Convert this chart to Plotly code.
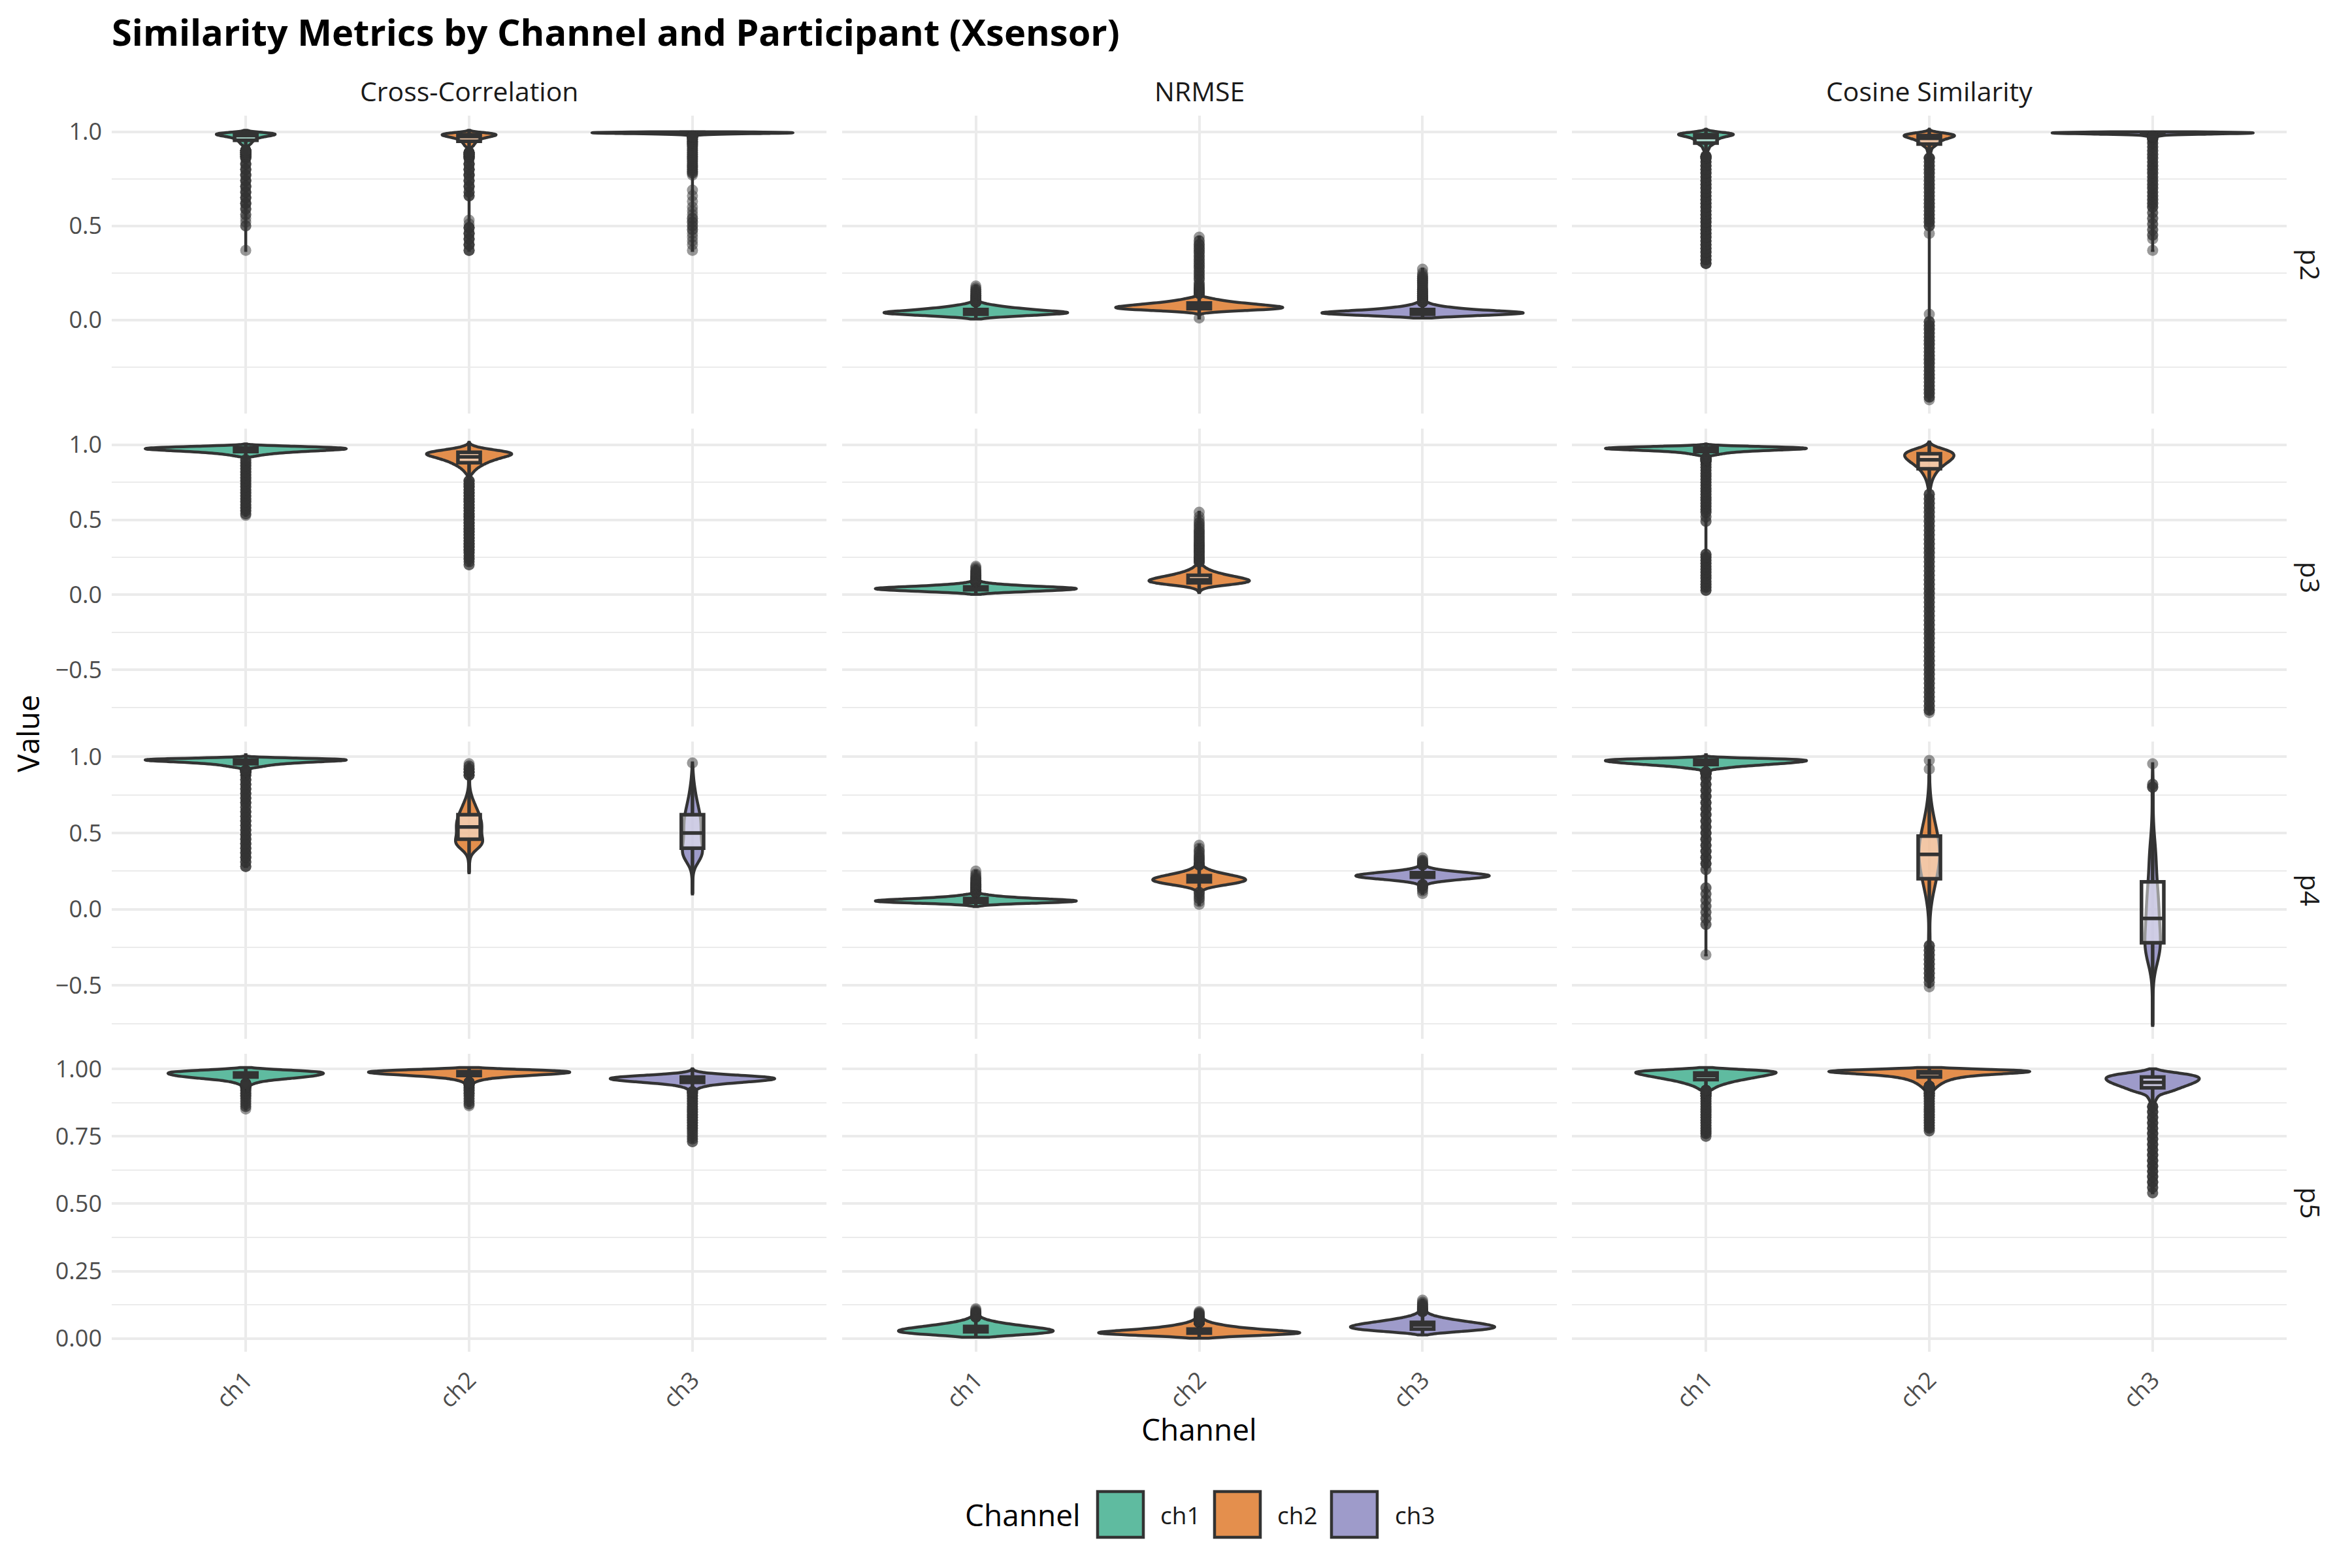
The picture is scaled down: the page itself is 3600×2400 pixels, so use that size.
"""
Similarity metrics by channel and participant (Xsensor)
Violin + box plots per participant (rows) and metric (columns)
"""

import numpy as np
import plotly.graph_objects as go
from plotly.subplots import make_subplots

PARTICIPANTS = ["p2", "p3", "p4", "p5"]
METRICS = ["Cross-Correlation", "NRMSE", "Cosine Similarity"]
CHANNELS = ["ch1", "ch2", "ch3"]
CHANNEL_RGB = [(27, 158, 119), (217, 95, 2), (117, 112, 179)]
ROW_TICK_STEP = [0.5, 0.5, 0.5, 0.25]
ROW_TICK_FORMAT = [".1f", ".1f", ".1f", ".2f"]

P2_CC_CH1 = [(1.008, 1), (1.0, 15), (0.995, 90), (0.99, 145), (0.985, 120), (0.98, 105), (0.975, 75),
             (0.97, 55), (0.965, 45), (0.96, 38), (0.955, 32), (0.95, 28), (0.945, 25), (0.94, 22),
             (0.935, 20), (0.93, 18), (0.92, 16), (0.91, 14), (0.90, 12), (0.89, 10), (0.88, 8),
             (0.87, 7), (0.86, 4), (0.83, 4), (0.80, 4), (0.77, 4), (0.74, 4), (0.71, 4), (0.68, 4),
             (0.65, 4), (0.62, 4), (0.59, 3), (0.56, 2), (0.54, 1), (0.52, 1), (0.50, 2), (0.37, 1)]
P2_CC_CH2 = [(1.008, 1), (1.0, 10), (0.995, 70), (0.99, 120), (0.985, 120), (0.98, 115), (0.975, 90),
             (0.97, 70), (0.965, 55), (0.96, 45), (0.955, 38), (0.95, 32), (0.945, 28), (0.94, 25),
             (0.935, 22), (0.93, 20), (0.925, 18), (0.92, 15), (0.91, 12), (0.90, 10), (0.89, 8),
             (0.88, 7), (0.87, 6), (0.86, 5), (0.83, 5), (0.80, 5), (0.77, 5), (0.74, 4), (0.71, 4),
             (0.68, 3), (0.66, 3), (0.53, 1), (0.51, 1), (0.49, 4), (0.46, 4), (0.43, 4), (0.40, 4),
             (0.37, 3)]
P2_CC_CH3 = [(1.0, 45), (0.9975, 220), (0.995, 240), (0.9925, 180), (0.99, 110), (0.9875, 55),
             (0.985, 30), (0.98, 14), (0.975, 8), (0.97, 5), (0.96, 3), (0.95, 3), (0.94, 3), (0.93, 3),
             (0.92, 2), (0.91, 2), (0.90, 2), (0.89, 2), (0.88, 2), (0.87, 2), (0.86, 2), (0.85, 2),
             (0.84, 2), (0.83, 2), (0.82, 2), (0.81, 2), (0.80, 2), (0.79, 2), (0.78, 2), (0.77, 1),
             (0.69, 1), (0.66, 1), (0.63, 1), (0.60, 1), (0.58, 1), (0.56, 1), (0.54, 2), (0.52, 2),
             (0.50, 2), (0.48, 2), (0.46, 1), (0.44, 1), (0.42, 1), (0.40, 1), (0.37, 1)]
P2_NRMSE_CH1 = [(0.005, 5), (0.01, 15), (0.015, 35), (0.02, 60), (0.025, 90), (0.03, 120), (0.035, 140),
                (0.04, 150), (0.045, 128), (0.05, 105), (0.055, 88), (0.06, 72), (0.065, 58), (0.07, 45),
                (0.075, 34), (0.08, 25), (0.085, 17), (0.09, 11), (0.095, 7), (0.10, 5), (0.11, 4),
                (0.12, 3), (0.13, 3), (0.14, 2), (0.15, 2), (0.16, 2), (0.17, 1), (0.18, 1)]
P2_NRMSE_CH2 = [(0.01, 1), (0.02, 1), (0.035, 4), (0.04, 14), (0.045, 35), (0.05, 65), (0.055, 95),
                (0.06, 115), (0.065, 122), (0.07, 118), (0.075, 105), (0.08, 90), (0.085, 76), (0.09, 62),
                (0.095, 50), (0.10, 39), (0.105, 30), (0.11, 23), (0.115, 17), (0.12, 12), (0.13, 9),
                (0.14, 7), (0.15, 5), (0.16, 4), (0.17, 3), (0.18, 2), (0.19, 2), (0.20, 1), (0.22, 3),
                (0.24, 3), (0.26, 3), (0.28, 3), (0.30, 3), (0.32, 3), (0.34, 3), (0.36, 3), (0.38, 3),
                (0.40, 3), (0.42, 2), (0.44, 1)]
P2_NRMSE_CH3 = [(0.01, 8), (0.015, 30), (0.02, 65), (0.025, 105), (0.03, 145), (0.035, 170), (0.04, 170),
                (0.045, 140), (0.05, 110), (0.055, 85), (0.06, 65), (0.065, 50), (0.07, 38), (0.075, 28),
                (0.08, 20), (0.085, 14), (0.09, 10), (0.095, 7), (0.10, 5), (0.11, 4), (0.12, 4),
                (0.13, 3), (0.14, 3), (0.15, 3), (0.16, 3), (0.17, 2), (0.18, 2), (0.19, 2), (0.20, 2),
                (0.21, 2), (0.22, 2), (0.23, 2), (0.24, 1), (0.25, 1), (0.27, 1)]
P2_COS_CH1 = [(1.014, 1), (1.0, 20), (0.995, 95), (0.99, 135), (0.985, 125), (0.98, 100), (0.975, 75),
              (0.97, 60), (0.965, 50), (0.96, 44), (0.955, 42), (0.95, 40), (0.945, 38), (0.94, 35),
              (0.935, 32), (0.93, 30), (0.92, 28), (0.91, 24), (0.90, 14), (0.89, 11), (0.88, 9),
              (0.87, 7), (0.86, 6), (0.84, 4), (0.82, 4), (0.80, 4), (0.78, 4), (0.76, 4), (0.74, 4),
              (0.72, 4), (0.70, 4), (0.68, 4), (0.66, 4), (0.64, 4), (0.62, 4), (0.60, 4), (0.58, 4),
              (0.56, 4), (0.54, 4), (0.52, 4), (0.50, 4), (0.48, 4), (0.46, 4), (0.44, 4), (0.42, 4),
              (0.40, 4), (0.38, 4), (0.36, 4), (0.34, 4), (0.32, 4), (0.30, 4)]
P2_COS_CH2 = [(1.014, 1), (1.0, 8), (0.995, 50), (0.99, 90), (0.985, 110), (0.98, 115), (0.975, 105),
              (0.97, 90), (0.965, 75), (0.96, 62), (0.955, 52), (0.95, 45), (0.945, 40), (0.94, 36),
              (0.935, 32), (0.93, 29), (0.925, 26), (0.92, 23), (0.91, 20), (0.90, 16), (0.89, 12),
              (0.88, 9), (0.87, 7), (0.86, 5), (0.84, 3), (0.82, 3), (0.80, 3), (0.78, 3), (0.76, 3),
              (0.74, 3), (0.72, 3), (0.70, 3), (0.68, 3), (0.66, 3), (0.64, 3), (0.62, 3), (0.60, 3),
              (0.58, 3), (0.56, 3), (0.54, 3), (0.52, 3), (0.50, 3), (0.46, 1), (0.03, 1), (-0.01, 3),
              (-0.03, 3), (-0.05, 3), (-0.07, 3), (-0.09, 3), (-0.11, 3), (-0.13, 3), (-0.15, 3),
              (-0.17, 3), (-0.19, 3), (-0.21, 3), (-0.23, 3), (-0.25, 3), (-0.27, 3), (-0.29, 3),
              (-0.31, 3), (-0.33, 3), (-0.35, 3), (-0.37, 3), (-0.39, 3), (-0.41, 3), (-0.425, 1)]
P2_COS_CH3 = [(1.0, 50), (0.9975, 160), (0.995, 185), (0.9925, 165), (0.99, 130), (0.9875, 85),
              (0.985, 55), (0.98, 30), (0.975, 15), (0.97, 8), (0.96, 3), (0.94, 3), (0.92, 3), (0.90, 3),
              (0.88, 3), (0.86, 3), (0.84, 3), (0.82, 3), (0.80, 3), (0.78, 3), (0.76, 3), (0.74, 3),
              (0.72, 3), (0.70, 3), (0.68, 3), (0.66, 3), (0.64, 3), (0.62, 3), (0.60, 3), (0.57, 2),
              (0.54, 2), (0.51, 2), (0.48, 2), (0.45, 2), (0.43, 1), (0.37, 1)]

P3_CC_CH1 = [(1.006, 1), (0.995, 30), (0.99, 75), (0.985, 110), (0.98, 140), (0.975, 150), (0.97, 145),
             (0.965, 125), (0.96, 100), (0.955, 80), (0.95, 62), (0.945, 48), (0.94, 37), (0.935, 28),
             (0.93, 20), (0.925, 14), (0.92, 10), (0.90, 3), (0.88, 3), (0.86, 3), (0.84, 3), (0.82, 3),
             (0.80, 3), (0.78, 3), (0.76, 3), (0.74, 3), (0.72, 3), (0.70, 3), (0.68, 3), (0.66, 3),
             (0.64, 3), (0.62, 3), (0.60, 3), (0.58, 3), (0.56, 3), (0.54, 2), (0.53, 1)]
P3_CC_CH2 = [(1.017, 1), (0.995, 5), (0.99, 15), (0.98, 30), (0.97, 60), (0.96, 95), (0.95, 125),
             (0.94, 135), (0.93, 125), (0.92, 105), (0.91, 88), (0.90, 75), (0.89, 63), (0.88, 52),
             (0.87, 43), (0.86, 35), (0.85, 28), (0.84, 22), (0.83, 17), (0.82, 13), (0.81, 10),
             (0.80, 7), (0.78, 4), (0.76, 4), (0.74, 4), (0.72, 4), (0.70, 4), (0.68, 4), (0.66, 4),
             (0.64, 4), (0.62, 4), (0.60, 4), (0.58, 4), (0.56, 4), (0.54, 4), (0.52, 4), (0.50, 4),
             (0.48, 4), (0.46, 4), (0.44, 4), (0.42, 4), (0.40, 4), (0.38, 4), (0.36, 4), (0.34, 4),
             (0.32, 4), (0.30, 4), (0.28, 3), (0.26, 3), (0.24, 3), (0.22, 2), (0.20, 2)]
P3_NRMSE_CH1 = [(0.003, 5), (0.008, 15), (0.013, 35), (0.018, 65), (0.023, 100), (0.028, 135),
                (0.033, 160), (0.038, 175), (0.043, 180), (0.048, 160), (0.053, 128), (0.058, 98),
                (0.063, 72), (0.068, 50), (0.073, 34), (0.078, 22), (0.083, 14), (0.088, 9), (0.095, 6),
                (0.10, 5), (0.11, 4), (0.12, 3), (0.13, 3), (0.14, 2), (0.15, 2), (0.16, 2), (0.17, 1),
                (0.18, 1), (0.19, 1)]
P3_NRMSE_CH2 = [(0.015, 1), (0.03, 3), (0.04, 6), (0.05, 15), (0.06, 35), (0.07, 62), (0.08, 85),
                (0.09, 95), (0.10, 90), (0.11, 80), (0.12, 66), (0.13, 52), (0.14, 40), (0.15, 30),
                (0.16, 22), (0.17, 16), (0.18, 11), (0.19, 8), (0.20, 6), (0.22, 5), (0.24, 5), (0.26, 4),
                (0.28, 4), (0.30, 4), (0.32, 4), (0.34, 4), (0.36, 3), (0.38, 3), (0.40, 3), (0.42, 3),
                (0.44, 2), (0.46, 2), (0.48, 2), (0.50, 1), (0.52, 1), (0.55, 1)]
P3_COS_CH1 = [(1.006, 1), (0.995, 25), (0.99, 90), (0.985, 150), (0.98, 190), (0.975, 200), (0.97, 175),
              (0.965, 130), (0.96, 95), (0.955, 68), (0.95, 50), (0.945, 38), (0.94, 29), (0.935, 22),
              (0.93, 17), (0.92, 13), (0.91, 10), (0.90, 8), (0.89, 6), (0.87, 3), (0.85, 3), (0.83, 3),
              (0.81, 3), (0.79, 3), (0.77, 3), (0.75, 3), (0.73, 3), (0.71, 3), (0.69, 3), (0.67, 3),
              (0.65, 3), (0.63, 3), (0.61, 3), (0.59, 3), (0.57, 3), (0.55, 3), (0.52, 2), (0.49, 2),
              (0.27, 3), (0.25, 3), (0.23, 3), (0.21, 3), (0.19, 3), (0.17, 3), (0.15, 3), (0.13, 3),
              (0.11, 3), (0.09, 3), (0.07, 3), (0.05, 3), (0.03, 3)]
P3_COS_CH2 = [(1.019, 1), (1.0, 3), (0.99, 15), (0.98, 35), (0.97, 55), (0.96, 75), (0.95, 85),
              (0.94, 90), (0.93, 90), (0.92, 88), (0.91, 84), (0.90, 78), (0.89, 70), (0.88, 63),
              (0.87, 55), (0.86, 48), (0.85, 42), (0.84, 36), (0.83, 31), (0.82, 27), (0.81, 23),
              (0.80, 20), (0.79, 17), (0.78, 14), (0.77, 12), (0.76, 10), (0.75, 8), (0.74, 7),
              (0.73, 6), (0.72, 5), (0.71, 4), (0.70, 4), (0.67, 3), (0.64, 3), (0.61, 3), (0.58, 3),
              (0.55, 3), (0.52, 3), (0.49, 3), (0.46, 3), (0.43, 3), (0.40, 3), (0.37, 3), (0.34, 3),
              (0.31, 3), (0.28, 3), (0.25, 3), (0.22, 3), (0.19, 3), (0.16, 3), (0.13, 3), (0.10, 3),
              (0.07, 3), (0.04, 3), (0.01, 3), (-0.02, 3), (-0.05, 3), (-0.08, 3), (-0.11, 3),
              (-0.14, 3), (-0.17, 3), (-0.20, 3), (-0.23, 3), (-0.26, 3), (-0.29, 3), (-0.32, 3),
              (-0.35, 3), (-0.38, 3), (-0.41, 3), (-0.44, 3), (-0.47, 3), (-0.50, 3), (-0.53, 3),
              (-0.56, 3), (-0.59, 3), (-0.62, 3), (-0.65, 3), (-0.68, 3), (-0.71, 3), (-0.74, 3),
              (-0.77, 3), (-0.786, 1)]

P4_CC_CH1 = [(1.014, 1), (0.995, 40), (0.99, 120), (0.985, 170), (0.98, 180), (0.975, 165), (0.97, 135),
             (0.965, 105), (0.96, 82), (0.955, 64), (0.95, 50), (0.945, 40), (0.94, 32), (0.935, 25),
             (0.93, 20), (0.92, 15), (0.91, 12), (0.90, 9), (0.88, 4), (0.85, 4), (0.82, 4), (0.79, 4),
             (0.76, 4), (0.73, 4), (0.70, 4), (0.67, 3), (0.64, 4), (0.61, 4), (0.58, 4), (0.55, 4),
             (0.52, 4), (0.49, 4), (0.46, 4), (0.43, 4), (0.40, 4), (0.37, 4), (0.34, 4), (0.31, 3),
             (0.28, 3)]
P4_CC_CH2 = [(0.24, 1), (0.26, 1), (0.28, 1), (0.30, 2), (0.32, 3), (0.34, 4), (0.36, 8), (0.38, 20),
             (0.40, 42), (0.42, 62), (0.44, 68), (0.46, 62), (0.48, 56), (0.50, 55), (0.52, 57),
             (0.54, 58), (0.56, 58), (0.58, 56), (0.60, 52), (0.62, 47), (0.64, 41), (0.66, 35),
             (0.68, 29), (0.70, 23), (0.72, 17), (0.74, 12), (0.76, 8), (0.78, 5), (0.80, 3), (0.82, 2),
             (0.84, 2), (0.86, 3), (0.88, 4), (0.90, 5), (0.92, 3), (0.94, 2), (0.955, 1)]
P4_CC_CH3 = [(0.10, 1), (0.12, 1), (0.14, 1), (0.16, 1), (0.18, 1), (0.20, 2), (0.22, 2), (0.24, 3),
             (0.26, 5), (0.28, 10), (0.30, 20), (0.32, 32), (0.34, 42), (0.36, 48), (0.38, 48),
             (0.40, 45), (0.42, 42), (0.44, 40), (0.46, 38), (0.48, 38), (0.50, 38), (0.52, 38),
             (0.54, 38), (0.56, 38), (0.58, 37), (0.60, 36), (0.62, 34), (0.64, 31), (0.66, 28),
             (0.68, 25), (0.70, 22), (0.72, 19), (0.74, 16), (0.76, 14), (0.78, 12), (0.80, 10),
             (0.82, 8), (0.84, 6), (0.86, 5), (0.88, 4), (0.90, 3), (0.92, 2), (0.94, 1), (0.96, 1)]
P4_NRMSE_CH1 = [(0.018, 2), (0.022, 5), (0.026, 12), (0.03, 25), (0.035, 55), (0.04, 95), (0.045, 130),
                (0.05, 150), (0.055, 158), (0.06, 145), (0.065, 118), (0.07, 92), (0.075, 70), (0.08, 52),
                (0.085, 37), (0.09, 26), (0.095, 18), (0.10, 11), (0.11, 8), (0.12, 6), (0.13, 5),
                (0.14, 6), (0.15, 7), (0.16, 5), (0.17, 3), (0.18, 2), (0.19, 2), (0.20, 2), (0.21, 1),
                (0.22, 1), (0.23, 1), (0.25, 1)]
P4_NRMSE_CH2 = [(0.032, 1), (0.05, 1), (0.07, 2), (0.09, 2), (0.11, 3), (0.12, 4), (0.13, 8), (0.14, 15),
                (0.15, 28), (0.16, 45), (0.17, 62), (0.18, 75), (0.19, 82), (0.20, 80), (0.21, 72),
                (0.22, 60), (0.23, 46), (0.24, 34), (0.25, 24), (0.26, 16), (0.27, 11), (0.28, 7),
                (0.29, 5), (0.30, 4), (0.32, 3), (0.34, 3), (0.36, 2), (0.38, 2), (0.40, 1), (0.42, 1)]
P4_NRMSE_CH3 = [(0.103, 1), (0.12, 1), (0.135, 2), (0.15, 3), (0.16, 5), (0.17, 10), (0.18, 22),
                (0.19, 45), (0.20, 80), (0.21, 112), (0.22, 122), (0.23, 105), (0.24, 75), (0.25, 45),
                (0.26, 25), (0.27, 12), (0.28, 6), (0.29, 4), (0.30, 3), (0.31, 2), (0.32, 2), (0.337, 1)]
P4_COS_CH1 = [(1.014, 1), (0.995, 30), (0.99, 80), (0.985, 120), (0.98, 140), (0.975, 140), (0.97, 135),
              (0.965, 125), (0.96, 115), (0.955, 100), (0.95, 85), (0.945, 70), (0.94, 55), (0.935, 42),
              (0.93, 32), (0.925, 24), (0.92, 18), (0.91, 13), (0.90, 10), (0.89, 7), (0.86, 4),
              (0.82, 4), (0.78, 4), (0.74, 4), (0.70, 4), (0.66, 4), (0.62, 4), (0.58, 4), (0.54, 4),
              (0.50, 4), (0.46, 4), (0.42, 4), (0.38, 4), (0.34, 4), (0.30, 4), (0.26, 2), (0.14, 2),
              (0.10, 2), (0.06, 2), (0.02, 2), (-0.02, 2), (-0.06, 2), (-0.10, 2), (-0.30, 1)]
P4_COS_CH2 = [(0.976, 1), (0.92, 1), (0.88, 1), (0.84, 2), (0.80, 3), (0.76, 5), (0.72, 8), (0.68, 12),
              (0.64, 17), (0.60, 23), (0.56, 30), (0.52, 37), (0.48, 43), (0.44, 48), (0.40, 52),
              (0.36, 53), (0.32, 51), (0.28, 47), (0.24, 42), (0.20, 36), (0.16, 29), (0.12, 22),
              (0.08, 16), (0.04, 11), (0.00, 7), (-0.04, 4), (-0.08, 3), (-0.12, 2), (-0.16, 2),
              (-0.18, 3), (-0.21, 3), (-0.24, 3), (-0.27, 3), (-0.30, 3), (-0.33, 3), (-0.36, 3),
              (-0.39, 3), (-0.42, 3), (-0.45, 3), (-0.48, 2), (-0.51, 1)]
P4_COS_CH3 = [(0.955, 1), (0.82, 2), (0.80, 3), (0.78, 1), (0.74, 1), (0.70, 1), (0.66, 1), (0.62, 2),
              (0.58, 2), (0.54, 3), (0.50, 4), (0.46, 6), (0.42, 8), (0.38, 10), (0.34, 11), (0.30, 11),
              (0.26, 11), (0.22, 12), (0.18, 13), (0.14, 16), (0.10, 17), (0.06, 18), (0.02, 19),
              (-0.02, 20), (-0.06, 20), (-0.10, 21), (-0.14, 22), (-0.18, 24), (-0.22, 26), (-0.26, 27),
              (-0.30, 24), (-0.34, 16), (-0.38, 8), (-0.42, 4), (-0.46, 2), (-0.50, 1), (-0.54, 1),
              (-0.58, 1), (-0.62, 1), (-0.66, 1), (-0.70, 1), (-0.763, 1)]

P5_CC_CH1 = [(1.005, 1), (1.0, 20), (0.995, 90), (0.99, 150), (0.985, 150), (0.98, 145), (0.975, 135),
             (0.97, 115), (0.965, 85), (0.96, 55), (0.955, 35), (0.95, 22), (0.945, 14), (0.94, 9),
             (0.935, 6), (0.93, 4), (0.92, 3), (0.91, 3), (0.90, 3), (0.89, 2), (0.88, 2), (0.87, 2),
             (0.86, 2), (0.851, 1)]
P5_CC_CH2 = [(1.005, 1), (1.0, 30), (0.995, 160), (0.99, 200), (0.985, 185), (0.98, 150), (0.975, 100),
             (0.97, 62), (0.965, 38), (0.96, 24), (0.955, 15), (0.95, 10), (0.945, 6), (0.94, 4),
             (0.93, 3), (0.92, 3), (0.91, 3), (0.90, 2), (0.89, 2), (0.88, 2), (0.87, 2), (0.863, 1)]
P5_CC_CH3 = [(1.0, 1), (0.995, 2), (0.99, 8), (0.985, 25), (0.98, 70), (0.975, 140), (0.97, 200),
             (0.965, 225), (0.96, 215), (0.955, 175), (0.95, 125), (0.945, 80), (0.94, 48), (0.935, 30),
             (0.93, 18), (0.925, 12), (0.92, 8), (0.915, 5), (0.91, 3), (0.90, 3), (0.89, 3), (0.88, 3),
             (0.87, 3), (0.86, 3), (0.85, 3), (0.84, 3), (0.83, 3), (0.82, 3), (0.81, 3), (0.80, 3),
             (0.79, 3), (0.78, 3), (0.77, 2), (0.76, 2), (0.75, 2), (0.74, 2), (0.73, 2)]
P5_NRMSE_CH1 = [(0.005, 15), (0.01, 42), (0.015, 78), (0.02, 108), (0.025, 120), (0.03, 120),
                (0.035, 110), (0.04, 95), (0.045, 78), (0.05, 62), (0.055, 47), (0.06, 34), (0.065, 24),
                (0.07, 16), (0.075, 10), (0.08, 7), (0.085, 4), (0.09, 3), (0.095, 3), (0.10, 2),
                (0.105, 1), (0.11, 1)]
P5_NRMSE_CH2 = [(0.001, 5), (0.005, 30), (0.01, 80), (0.015, 140), (0.02, 175), (0.025, 160), (0.03, 125),
                (0.035, 95), (0.04, 70), (0.045, 52), (0.05, 38), (0.055, 27), (0.06, 18), (0.065, 12),
                (0.07, 8), (0.075, 6), (0.08, 4), (0.085, 3), (0.09, 2), (0.095, 2), (0.10, 1)]
P5_NRMSE_CH3 = [(0.013, 5), (0.02, 25), (0.025, 50), (0.03, 80), (0.035, 100), (0.04, 110), (0.045, 108),
                (0.05, 100), (0.055, 88), (0.06, 74), (0.065, 60), (0.07, 46), (0.075, 34), (0.08, 24),
                (0.085, 16), (0.09, 11), (0.095, 7), (0.10, 5), (0.105, 4), (0.11, 3), (0.115, 2),
                (0.12, 2), (0.125, 2), (0.13, 1), (0.135, 1), (0.142, 1)]
P5_COS_CH1 = [(1.005, 1), (1.0, 20), (0.995, 120), (0.99, 140), (0.985, 135), (0.98, 125), (0.975, 112),
              (0.97, 98), (0.965, 84), (0.96, 70), (0.955, 57), (0.95, 46), (0.945, 37), (0.94, 29),
              (0.935, 22), (0.93, 17), (0.925, 13), (0.92, 10), (0.91, 8), (0.90, 6), (0.89, 3),
              (0.88, 3), (0.87, 3), (0.86, 3), (0.85, 3), (0.84, 3), (0.83, 3), (0.82, 3), (0.81, 3),
              (0.80, 3), (0.79, 3), (0.78, 3), (0.77, 3), (0.76, 3), (0.75, 2)]
P5_COS_CH2 = [(1.005, 1), (1.0, 40), (0.995, 200), (0.99, 210), (0.985, 160), (0.98, 110), (0.975, 80),
              (0.97, 60), (0.965, 47), (0.96, 38), (0.955, 31), (0.95, 26), (0.945, 22), (0.94, 18),
              (0.935, 15), (0.93, 12), (0.925, 10), (0.92, 8), (0.91, 6), (0.90, 5), (0.89, 3),
              (0.88, 3), (0.87, 3), (0.86, 3), (0.85, 3), (0.84, 3), (0.83, 3), (0.82, 3), (0.81, 3),
              (0.80, 3), (0.79, 3), (0.78, 3), (0.77, 2)]
P5_COS_CH3 = [(1.0, 3), (0.995, 10), (0.99, 22), (0.985, 50), (0.98, 70), (0.975, 82), (0.97, 88),
              (0.965, 90), (0.96, 88), (0.955, 85), (0.95, 80), (0.945, 74), (0.94, 67), (0.935, 60),
              (0.93, 53), (0.925, 46), (0.92, 40), (0.915, 34), (0.91, 29), (0.90, 22), (0.89, 15),
              (0.88, 10), (0.87, 7), (0.86, 5), (0.84, 4), (0.82, 4), (0.80, 4), (0.78, 4), (0.76, 4),
              (0.74, 4), (0.72, 4), (0.70, 4), (0.68, 4), (0.66, 4), (0.64, 4), (0.62, 4), (0.60, 4),
              (0.58, 4), (0.56, 3), (0.54, 2)]

# rows = participants, columns = metrics, entries per channel (None = no data)
PANELS = [
    [[P2_CC_CH1, P2_CC_CH2, P2_CC_CH3], [P2_NRMSE_CH1, P2_NRMSE_CH2, P2_NRMSE_CH3],
     [P2_COS_CH1, P2_COS_CH2, P2_COS_CH3]],
    [[P3_CC_CH1, P3_CC_CH2, None], [P3_NRMSE_CH1, P3_NRMSE_CH2, None],
     [P3_COS_CH1, P3_COS_CH2, None]],
    [[P4_CC_CH1, P4_CC_CH2, P4_CC_CH3], [P4_NRMSE_CH1, P4_NRMSE_CH2, P4_NRMSE_CH3],
     [P4_COS_CH1, P4_COS_CH2, P4_COS_CH3]],
    [[P5_CC_CH1, P5_CC_CH2, P5_CC_CH3], [P5_NRMSE_CH1, P5_NRMSE_CH2, P5_NRMSE_CH3],
     [P5_COS_CH1, P5_COS_CH2, P5_COS_CH3]],
]

# Seitenlayout in Pixeln (Referenzkoordinaten; die Seite hat 8 px Rand)
W, H = 3600, 2400
OFF = 8
ML, MR, MT, MB = 171 - OFF, 100 + OFF, 177 - OFF, 331 + OFF
PW, PH = W - ML - MR, H - MT - MB
GRID = "#EBEBEB"
INK = "#333333"
FONT = "Open Sans"


def px_x(px):
    return (px - OFF - ML) / PW


def px_y(py):
    return (H - MB - (py - OFF)) / PH


def bandwidth(values, samples):
    # nrd0 rule, not narrower than the spacing of the read-off values
    q1, q3 = np.percentile(samples, [25, 75])
    spread = min(np.std(samples, ddof=1), (q3 - q1) / 1.34)
    bw = 0.9 * spread * len(samples) ** -0.2
    return max(bw, np.min(np.diff(np.unique(values))))


def kde_peak(values, counts, bw):
    grid = np.linspace(values.min(), values.max(), 600)
    k = np.exp(-0.5 * ((grid[:, None] - values[None, :]) / bw) ** 2)
    dens = (k * counts[None, :]).sum(axis=1) / (counts.sum() * bw * np.sqrt(2 * np.pi))
    return dens.max()


fig = make_subplots(rows=4, cols=3, horizontal_spacing=23.5 / PW, vertical_spacing=23 / PH)

boxes = []
row_ranges = []
for r, row in enumerate(PANELS):
    row_vals = []
    for c, panel in enumerate(row):
        stats = []
        for k, pairs in enumerate(panel):
            if pairs is None:
                continue
            values = np.array([v for v, _ in pairs], dtype=float)
            counts = np.array([n for _, n in pairs])
            samples = np.repeat(values, counts)
            bw = bandwidth(values, samples)
            stats.append((k, samples, bw, kde_peak(values, counts, bw)))
            row_vals.append(samples)
        # ggplot scale="area": widest violin of the panel gets 0.9
        top = max(s[3] for s in stats)
        for k, samples, bw, peak in stats:
            cr, cg, cb = CHANNEL_RGB[k]
            fig.add_trace(go.Violin(
                x=[CHANNELS[k]] * len(samples), y=samples,
                width=0.9 * peak / top, bandwidth=bw,
                spanmode="hard", scalemode="width", points=False,
                fillcolor=f"rgba({cr},{cg},{cb},0.7)",
                line=dict(color=INK, width=4.5),
                showlegend=False, hoverinfo="skip",
            ), row=r + 1, col=c + 1)
            boxes.append((r + 1, c + 1, k, samples))
    allv = np.concatenate(row_vals)
    lo, hi = allv.min(), allv.max()
    pad = 0.05 * (hi - lo)
    row_ranges.append([lo - pad, hi + pad])

for r, c, k, samples in boxes:
    fig.add_trace(go.Box(
        x=[CHANNELS[k]] * len(samples), y=samples, width=0.1,
        fillcolor="rgba(255,255,255,0.5)", line=dict(color=INK, width=5.5),
        whiskerwidth=0, boxpoints="outliers", jitter=0, pointpos=0,
        marker=dict(color="rgba(51,51,51,0.5)", size=17, line=dict(width=0)),
        showlegend=False, hoverinfo="skip",
    ), row=r, col=c)

for r in range(4):
    step = ROW_TICK_STEP[r]
    for c in range(3):
        fig.update_yaxes(
            range=row_ranges[r], tickmode="linear", tick0=0, dtick=step,
            tickformat=ROW_TICK_FORMAT[r], showgrid=True, gridcolor=GRID, gridwidth=4,
            minor=dict(tick0=0, dtick=step / 2, showgrid=True, gridcolor=GRID, gridwidth=2),
            zeroline=False, ticks="", showticklabels=(c == 0), ticklabelstandoff=14,
            tickfont=dict(size=36, color="#4D4D4D"), showline=False,
            row=r + 1, col=c + 1)
        fig.update_xaxes(
            type="category", categoryorder="array", categoryarray=CHANNELS,
            range=[-0.6, 2.6], showgrid=True, gridcolor=GRID, gridwidth=4,
            zeroline=False, ticks="", tickangle=-45, showticklabels=(r == 3),
            ticklabelstandoff=14, tickfont=dict(size=36, color="#4D4D4D"), showline=False,
            row=r + 1, col=c + 1)

annotations = []
# Facetten-Beschriftungen
for c, metric in enumerate(METRICS):
    dom = fig.layout[f"xaxis{c + 1 if c else ''}"].domain
    annotations.append(dict(text=metric, x=(dom[0] + dom[1]) / 2, y=px_y(139), xref="paper",
                            yref="paper", showarrow=False, xanchor="center", yanchor="middle",
                            font=dict(size=41, color="#1A1A1A")))
for r, part in enumerate(PARTICIPANTS):
    dom = fig.layout[f"yaxis{3 * r + 1 if r else ''}"].domain
    annotations.append(dict(text=part, x=px_x(3537), y=(dom[0] + dom[1]) / 2, xref="paper",
                            yref="paper", showarrow=False, textangle=90, xanchor="center",
                            yanchor="middle", font=dict(size=41, color="#1A1A1A")))
# Achsentitel
annotations.append(dict(text="Value", x=px_x(42), y=0.5, xref="paper", yref="paper",
                        showarrow=False, textangle=-90, xanchor="center", yanchor="middle",
                        font=dict(size=46, color="black")))
annotations.append(dict(text="Channel", x=0.5, y=px_y(2187), xref="paper", yref="paper",
                        showarrow=False, xanchor="center", yanchor="middle",
                        font=dict(size=46, color="black")))

# Legende (Schlüssel wie bei ggplot)
shapes = []
legend_key_left = [1680, 1859, 2038]
legend_label_left = [1774, 1953, 2133]
annotations.append(dict(text="Channel", x=px_x(1656), y=px_y(2318), xref="paper", yref="paper",
                        showarrow=False, xanchor="right", yanchor="middle",
                        font=dict(size=46, color="black")))
for k, ch in enumerate(CHANNELS):
    cr, cg, cb = CHANNEL_RGB[k]
    shapes.append(dict(type="rect", xref="paper", yref="paper",
                       x0=px_x(legend_key_left[k]), x1=px_x(legend_key_left[k] + 70),
                       y0=px_y(2353), y1=px_y(2283),
                       fillcolor=f"rgba({cr},{cg},{cb},0.7)", line=dict(color=INK, width=4.5)))
    annotations.append(dict(text=ch, x=px_x(legend_label_left[k]), y=px_y(2318), xref="paper",
                            yref="paper", showarrow=False, xanchor="left", yanchor="middle",
                            font=dict(size=37, color="#1A1A1A")))

fig.update_layout(
    width=W, height=H,
    margin=dict(l=ML, r=MR, t=MT, b=MB),
    paper_bgcolor="white", plot_bgcolor="white",
    font=dict(family=FONT, color="#1A1A1A"),
    title=dict(text="Similarity Metrics by Channel and Participant (Xsensor)",
               x=0, xref="paper", xanchor="left", y=1 - 42 / H, yanchor="middle",
               font=dict(size=56, color="black", weight="bold")),
    violinmode="overlay", boxmode="overlay",
    showlegend=False,
    annotations=annotations, shapes=shapes,
)

fig.write_html("out.html")
